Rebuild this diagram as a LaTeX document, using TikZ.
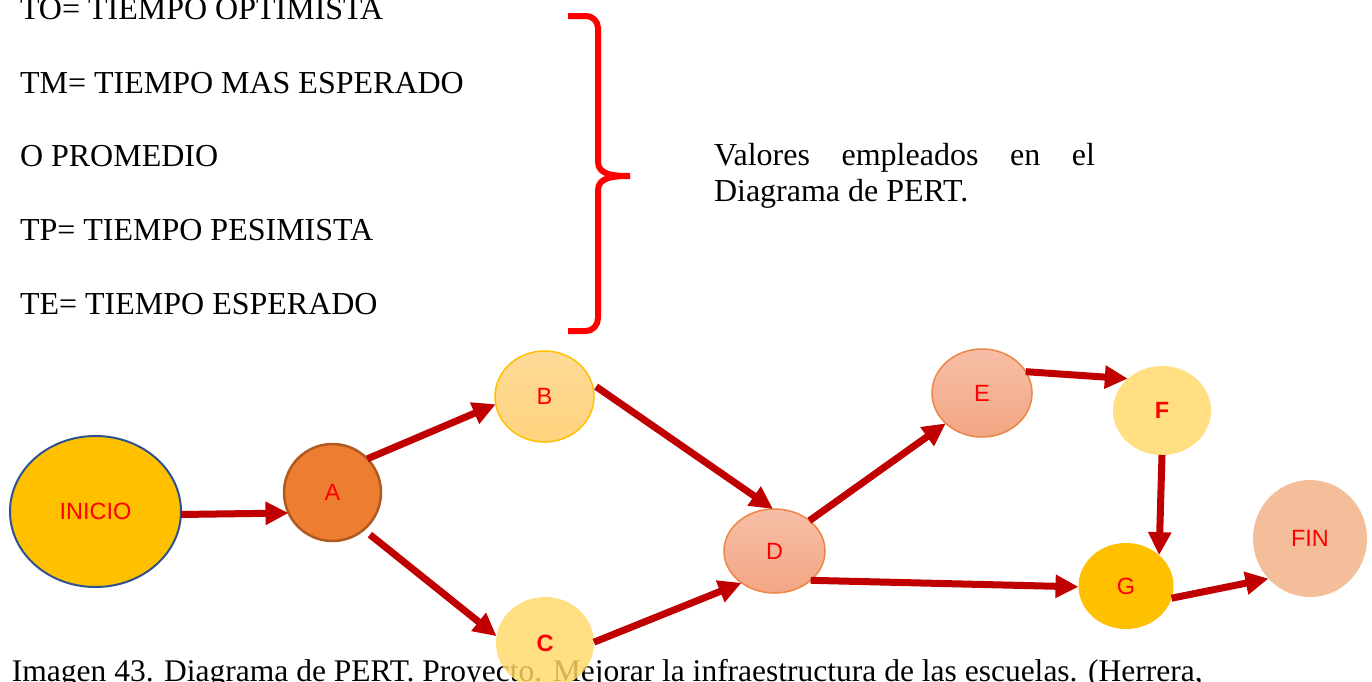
\documentclass[tikz,border=0pt]{standalone}
\usepackage{fontspec}
\setmainfont{Liberation Serif}
\newfontfamily\lsans{Liberation Sans}
\usetikzlibrary{shapes.geometric,arrows.meta}
\definecolor{arrred}{HTML}{C00000}
\definecolor{inicio}{HTML}{FFC000}
\definecolor{inicioborder}{HTML}{2F528F}
\definecolor{afill}{HTML}{ED7D31}
\definecolor{aborder}{HTML}{AE5A21}
\definecolor{btop}{HTML}{FDDA98}
\definecolor{bbot}{HTML}{FFD47E}
\definecolor{bborder}{HTML}{FFC000}
\definecolor{cfill}{HTML}{FFD966}
\definecolor{detop}{HTML}{F6BFA6}
\definecolor{debot}{HTML}{F3A684}
\definecolor{deborder}{HTML}{EE8646}
\definecolor{ffill}{HTML}{FFDF82}
\definecolor{gfill}{HTML}{FFC000}
\definecolor{finfill}{HTML}{F4BE9A}
\begin{document}
\begin{tikzpicture}[x=1pt,y=-1pt,
  every node/.style={inner sep=0pt, outer sep=0pt},
  ev/.style={ellipse, inner sep=0pt, outer sep=0pt, text=red,
    font=\lsans\fontsize{23.5}{24}\selectfont},
  arr/.style={draw=arrred, line width=7pt, -{Triangle[length=23pt,width=22pt]}},
  txt/.style={anchor=base west, font=\fontsize{32}{35}\selectfont},
  brace/.style={draw=red, line width=6pt, line join=round}
]
\path[use as bounding box, fill=white] (0,0) rectangle (1372,681);

% left legend
\node[txt] (to) at (20,19) {TO= TIEMPO OPTIMISTA};
\node[txt] (tm) at (20,93) {TM= TIEMPO MAS ESPERADO};
\node[txt] (pr) at (20,166) {O PROMEDIO};
\node[txt] (tp) at (20,240) {TP= TIEMPO PESIMISTA};
\node[txt] (te) at (20,314) {TE= TIEMPO ESPERADO};

% brace
\draw[brace] (568,16) -- (586,16) to[out=0,in=90] (598,28) -- (598,162)
  to[out=-90,in=180] (630,176);
\draw[brace] (630,176) to[out=180,in=90] (598,190) -- (598,318)
  to[out=-90,in=0] (586,331) -- (568,331);

% right text
\node[txt] (val1) at (714,165) {\makebox[381pt][s]{Valores empleados en el}};
\node[txt] (val2) at (714,201) {Diagrama de PERT.};

% caption
\node[anchor=base west, font=\fontsize{31.5}{34}\selectfont] (cap) at (12,681)
  {Imagen 43. Diagrama de PERT. Proyecto. Mejorar la infraestructura de las escuelas. (Herrera,};

% nodes
\node[ev, fill=inicio, draw=inicioborder, line width=2pt,
  minimum width=171pt, minimum height=151pt] (INICIO) at (95.5,511.5) {INICIO};
\node[ev, fill=afill, draw=aborder, line width=2.5pt,
  minimum width=97pt, minimum height=97pt] (A) at (332.5,492.5) {A};
\node[ev, top color=btop, bottom color=bbot, draw=bborder, line width=1.5pt,
  minimum width=99pt, minimum height=91pt] (B) at (544.5,396.5) {B};
\node[ev, fill=cfill, fill opacity=0.82, text opacity=1,
  minimum width=98pt, minimum height=92pt] (C) at (545,643) {\bfseries C};
\node[ev, top color=detop, bottom color=debot, draw=deborder, line width=1.5pt,
  minimum width=101pt, minimum height=84pt] (D) at (774.5,551) {D};
\node[ev, top color=detop, bottom color=debot, draw=deborder, line width=1.5pt,
  minimum width=100pt, minimum height=88pt] (E) at (982,393) {E};
\node[ev, fill=ffill,
  minimum width=98pt, minimum height=89pt] (F) at (1162,410.5) {\bfseries F};
\node[ev, fill=gfill,
  minimum width=95pt, minimum height=86pt] (G) at (1126,586) {G};
\node[ev, fill=finfill,
  minimum width=114pt, minimum height=117pt] (FIN) at (1310,538.5) {FIN};

% arrows
\draw[arr] (INICIO.-2) -- (A.205);
\draw[arr] (A.44) -- (B.189);
\draw[arr, shorten <=8pt] (A.-50) -- (C.172);
\draw[arr, shorten <=5pt] (B.15) -- (D.92);
\draw[arr] (C.1) -- (D.224);
\draw[arr] (D.41) -- (E.220);
\draw[arr] (E.26) -- (F.137);
\draw[arr] (F.-90) -- (G.43);
\draw[arr] (D.-39) -- (G.181);
\draw[arr] (G.-15) -- (FIN.224);
\end{tikzpicture}
\end{document}
